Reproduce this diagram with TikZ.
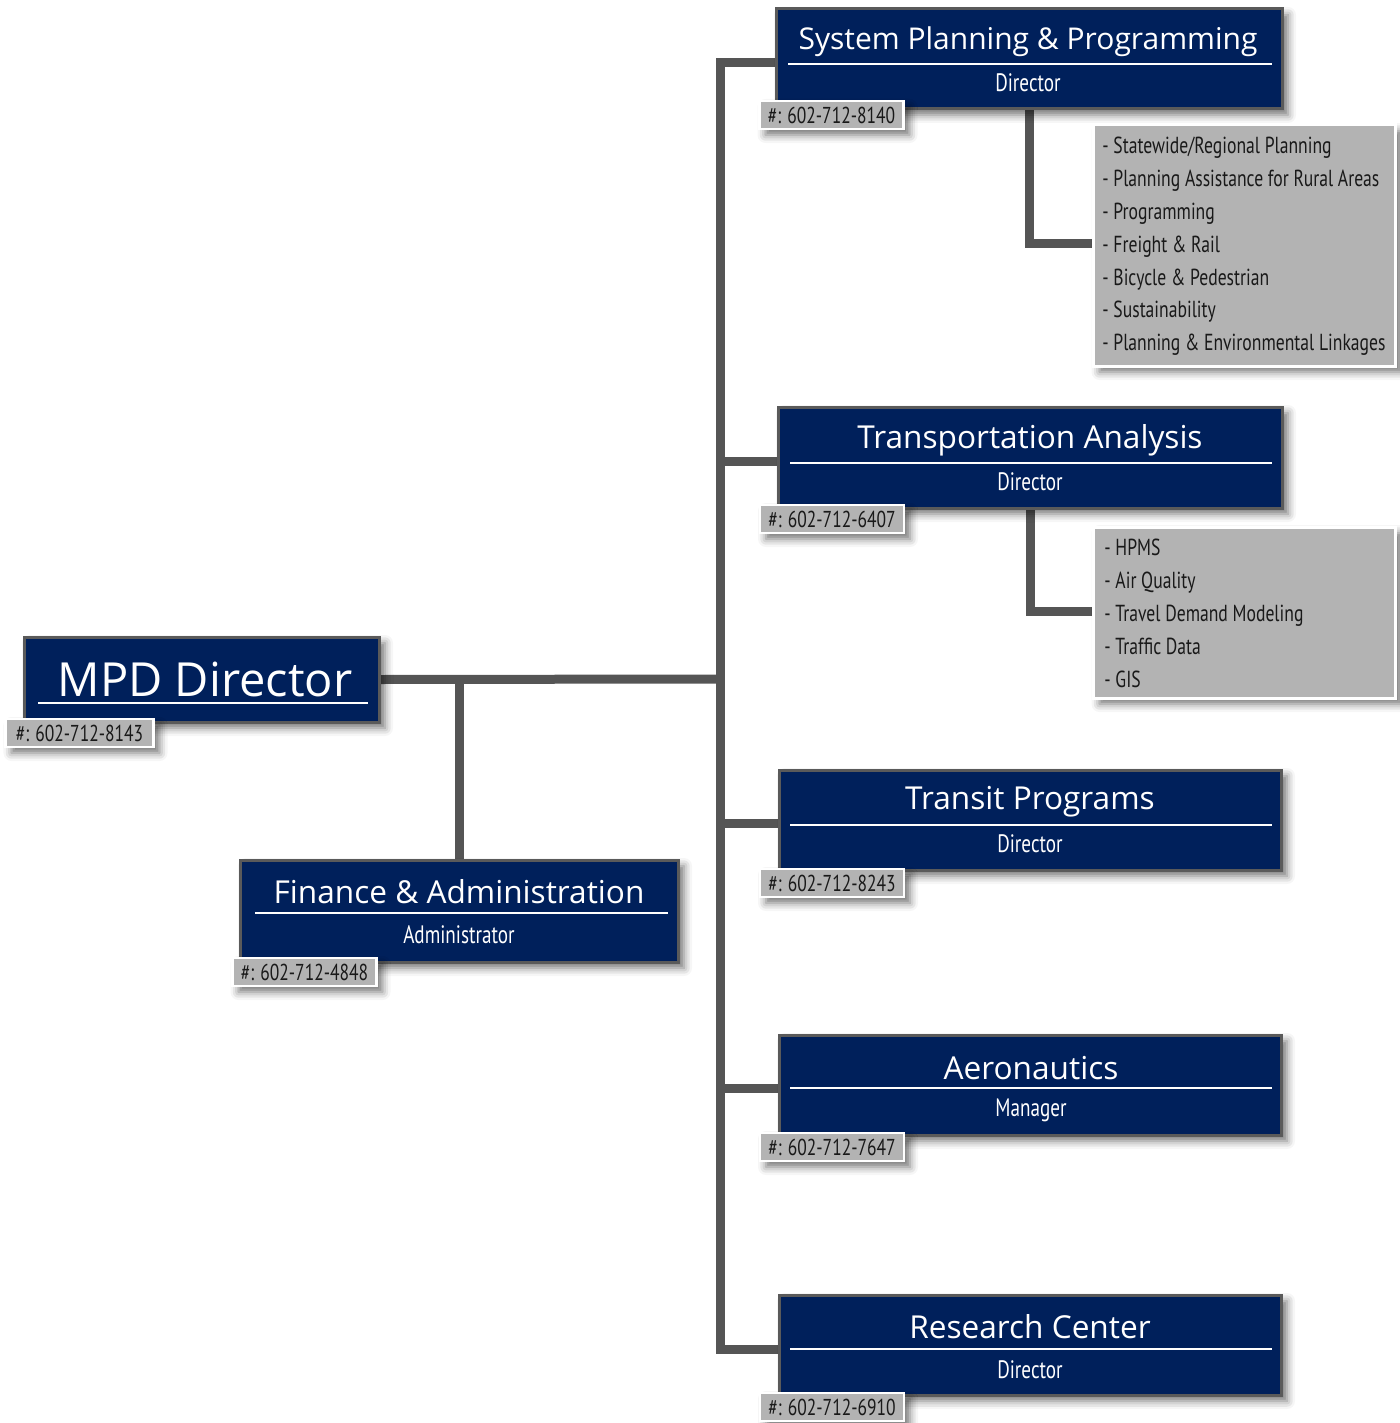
\documentclass[tikz,border=0pt]{standalone}
\usepackage{fontspec}
\usetikzlibrary{shadows.blur}
\newfontfamily\titlefont{Open Sans}
\newfontfamily\condfont[FakeStretch=0.76]{PT Sans}
\definecolor{navy}{HTML}{00205B}
\definecolor{edgegray}{HTML}{5A5A5A}
\definecolor{conngray}{HTML}{555555}
\definecolor{labgray}{HTML}{B3B3B3}
\pgfdeclarelayer{bg}
\pgfsetlayers{bg,main}
\tikzset{
  x=0.5pt, y=-0.5pt,
  shade/.style={blur shadow={shadow xshift=3pt, shadow yshift=-3pt, shadow blur radius=4pt, shadow opacity=55}},
  navybox/.style={draw=edgegray, line width=1.5pt, fill=navy, shade, inner sep=0pt},
  titletxt/.style={text=white, font=\titlefont\fontsize{15.8}{18}\selectfont, inner sep=0pt},
  subtxt/.style={text=white, font=\condfont\fontsize{12.6}{14}\selectfont, inner sep=0pt},
  phone/.style={draw=white, line width=1.2pt, fill=labgray, shade, minimum width=72pt, minimum height=14pt, inner sep=0pt, font=\condfont\fontsize{11.5}{13}\selectfont, text=black!90},
  listbox/.style={draw=white, line width=1.5pt, fill=labgray, shade, minimum width=151pt, inner sep=0pt},
  listtxt/.style={font=\condfont\fontsize{11.6}{16.4}\selectfont, align=left, anchor=north west, inner sep=0pt, text=black!90},
  conn/.style={draw=conngray, line width=4.5pt},
  rule/.style={draw=white, line width=0.7pt},
}
\begin{document}
\begin{tikzpicture}
\useasboundingbox (0,0) rectangle (1399,1423);

% MPD Director
\node[navybox, minimum width=177.5pt, minimum height=42.5pt] (mpd) at (201.5,679.5) {};
\node[text=white, font=\titlefont\fontsize{23.5}{26}\selectfont, inner sep=0pt] (mpdt) at (205,679) {MPD Director};
\draw[rule] (38,703) -- (368,703);
\node[phone, minimum width=74pt] (mpdp) at (79.5,733) {\#: 602-712-8143};

% Finance & Administration
\node[navybox, minimum width=219pt, minimum height=51pt] (fa) at (459,911) {};
\node[titletxt] (fat) at (459,892) {Finance \& Administration};
\draw[rule] (255,913) -- (668,913);
\node[subtxt] (fas) at (459,935) {Administrator};
\node[phone] (fap) at (304.5,972) {\#: 602-712-4848};

% System Planning & Programming
\node[navybox, minimum width=253pt, minimum height=50pt] (spp) at (1029,59) {};
\node[titletxt, font=\titlefont\fontsize{15}{17}\selectfont] (sppt) at (1028,42) {System Planning \& Programming};
\draw[rule] (788,64) -- (1272,64);
\node[subtxt] (spps) at (1028,83) {Director};
\node[phone] (sppp) at (831.5,115) {\#: 602-712-8140};

% Transportation Analysis
\node[navybox, minimum width=252pt, minimum height=50.5pt] (ta) at (1030,457.5) {};
\node[titletxt] (tat) at (1030,440) {Transportation Analysis};
\draw[rule] (790,463) -- (1272,463);
\node[subtxt] (tas) at (1030,482) {Director};
\node[phone] (tap) at (832,519) {\#: 602-712-6407};

% Transit Programs
\node[navybox, minimum width=251pt, minimum height=50pt] (tp) at (1030,820) {};
\node[titletxt] (tpt) at (1030,802) {Transit Programs};
\draw[rule] (790,825) -- (1272,825);
\node[subtxt] (tps) at (1030,844) {Director};
\node[phone] (tpp) at (832,883) {\#: 602-712-8243};

% Aeronautics
\node[navybox, minimum width=251pt, minimum height=50pt] (aer) at (1030,1085) {};
\node[titletxt] (aert) at (1031,1068) {Aeronautics};
\draw[rule] (790,1088) -- (1272,1088);
\node[subtxt] (aers) at (1031,1110) {Manager};
\node[phone] (aerp) at (832,1147) {\#: 602-712-7647};

% Research Center
\node[navybox, minimum width=251pt, minimum height=50pt] (rc) at (1030,1345) {};
\node[titletxt] (rct) at (1030,1327) {Research Center};
\draw[rule] (790,1349) -- (1272,1349);
\node[subtxt] (rcs) at (1030,1370) {Director};
\node[phone] (rcp) at (832,1407) {\#: 602-712-6910};

% Lists
\node[listbox, minimum height=120.5pt] (l1) at (1244.5,245.5) {};
\node[listtxt] (l1t) at (1102,137) {- Statewide/Regional Planning\\- Planning Assistance for Rural Areas\\- Programming\\- Freight \& Rail\\- Bicycle \& Pedestrian\\- Sustainability\\- Planning \& Environmental Linkages};
\node[listbox, minimum height=85.5pt] (l2) at (1244.5,612.5) {};
\node[listtxt] (l2t) at (1104,539) {- HPMS\\- Air Quality\\- Travel Demand Modeling\\- Traffic Data\\- GIS};

% connectors
\coordinate (j) at (720,679);
\begin{pgfonlayer}{bg}
\draw[conn] (mpd.east) -- (j);
\draw[conn] (fa.north) -- (fa.north |- j);
\draw[conn] ([yshift=-2pt]spp.west) -| (j);
\draw[conn] ([yshift=-1.75pt]ta.west) -| (j);
\draw[conn] ([yshift=-1.5pt]tp.west) -| (j);
\draw[conn] ([yshift=-1.5pt]aer.west) -| (j);
\draw[conn] ([yshift=-2pt]rc.west) -| (j);
\draw[conn] (spp.south) |- ([yshift=1pt]l1.west);
\draw[conn] (ta.south) |- ([yshift=0.75pt]l2.west);
\end{pgfonlayer}
\end{tikzpicture}
\end{document}
